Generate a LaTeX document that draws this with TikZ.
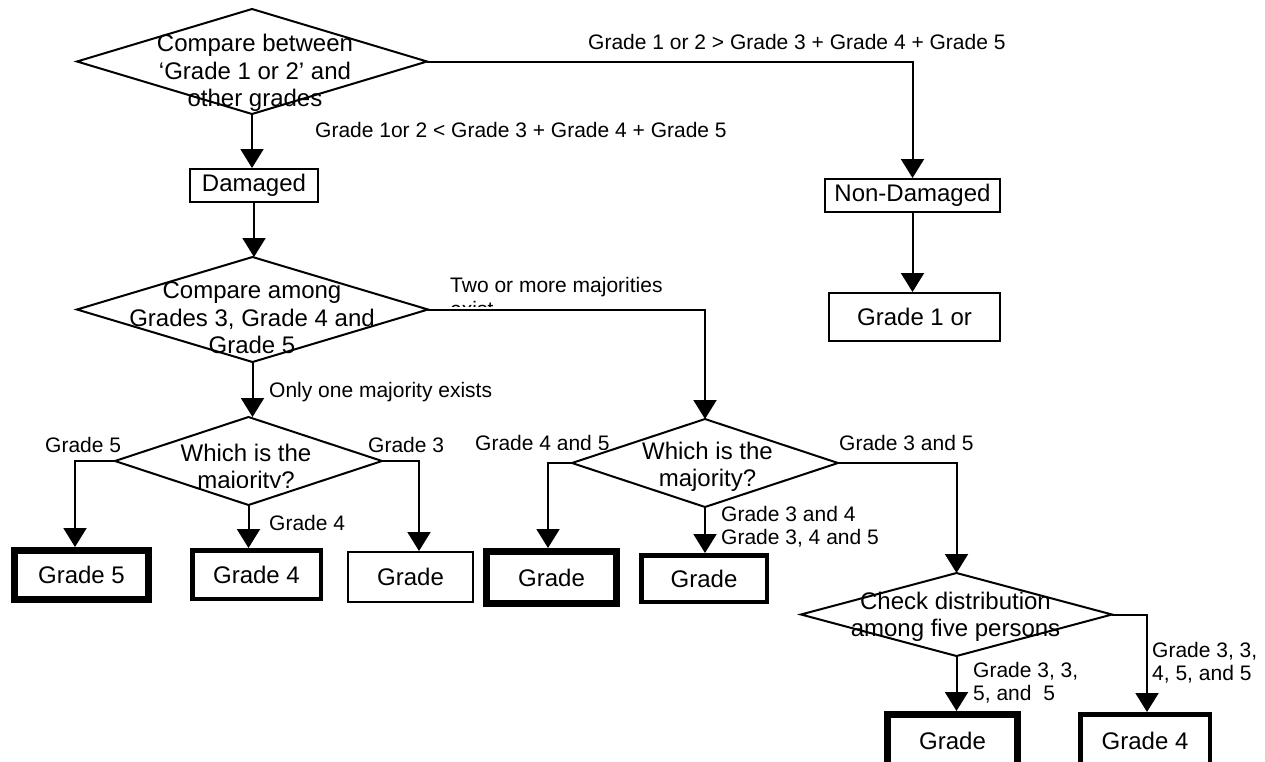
\documentclass[tikz,border=0pt]{standalone}
\usepackage{fontspec}
\setmainfont{Liberation Sans}
\usetikzlibrary{arrows.meta,shapes.geometric}
\begin{document}
\begin{tikzpicture}[x=1pt,y=-1pt,
  conn/.style={line width=2pt},
  arr/.style={conn,-{Triangle[length=19pt,width=23pt]}},
  dia/.style={diamond,draw,line width=2pt,inner sep=0pt,outer sep=0pt},
  bigtxt/.style={font=\fontsize{24}{27.5}\selectfont,align=center,inner sep=0pt,anchor=base},
  lbl/.style={font=\fontsize{21}{23.5}\selectfont,align=left,inner sep=0pt,anchor=base west},
  boxthin/.style={draw,line width=2.2pt,inner sep=0pt,font=\fontsize{24}{27.5}\selectfont},
  boxmid/.style={boxthin,line width=4.5pt},
  boxthick/.style={boxthin,line width=7pt}
]
\useasboundingbox (0,0) rectangle (1265,761);

% diamonds
\node[dia,minimum width=350pt,minimum height=105pt] (d1) at (252,61.5) {};
\node[dia,minimum width=351pt,minimum height=105pt] (d2) at (252.5,309.5) {};
\node[dia,minimum width=267pt,minimum height=88pt] (w1) at (248.5,461) {};
\node[dia,minimum width=266pt,minimum height=88pt] (w2) at (705,463) {};
\node[dia,minimum width=311pt,minimum height=83pt] (ck) at (956.5,614.5) {};

% diamond texts (anchor = baseline of last line)
\node[bigtxt] (d1t) at (255,106.6) {Compare between\\‘Grade 1 or 2’ and\\other grades};
\node[bigtxt] (d2t) at (252,353.6) {Compare among\\Grades 3, Grade 4 and\\Grade 5};
\begin{scope}
\clip (100,420) rectangle (400,487);
\node[bigtxt] (w1t) at (246,488.6) {Which is the\\majority?};
\end{scope}
\node[bigtxt] (w2t) at (707.5,486.6) {Which is the\\majority?};
\node[bigtxt] (ckt) at (955.5,636.6) {Check distribution\\among five persons};

% boxes
\node[boxthin,minimum width=127.8pt,minimum height=32.8pt] (dmg) at (254,185.5) {Damaged};
\node[boxthin,minimum width=174.8pt,minimum height=32.8pt] (nd) at (912.5,195.5) {Non-Damaged};
\node[boxthin,minimum width=170.8pt,minimum height=47.8pt] (g12) at (914.5,317) {Grade 1 or};
\node[boxthick,minimum width=134pt,minimum height=49pt] (g5) at (81.5,575) {Grade 5};
\node[boxmid,minimum width=128.5pt,minimum height=48.5pt] (g4) at (256.5,574.5) {Grade 4};
\node[boxthin,minimum width=124.8pt,minimum height=49.8pt] (g3) at (410.5,577) {Grade};
\node[boxthick,minimum width=130pt,minimum height=52pt] (g45) at (551.5,577.5) {Grade};
\node[boxmid,minimum width=125.5pt,minimum height=46.5pt] (g34) at (704,578.5) {Grade};
\node[boxthick,minimum width=130pt,minimum height=53pt] (gb1) at (952.5,741) {Grade};
\node[boxmid,minimum width=129.5pt,minimum height=53.5pt] (gb2) at (1145,741) {Grade 4};

% connectors
\draw[arr] (d1.east) -| (nd.north);
\draw[arr] (d1.south) -- (d1.south |- dmg.north);
\draw[arr] (nd.south) -- (nd.south |- g12.north);
\draw[arr] (dmg.south) -- (dmg.south |- d2.north);
\draw[arr] (d2.east) -| (w2.north);
\draw[arr] (d2.south) -- (d2.south |- w1.north);
\draw[arr] (w1.west) -| ([xshift=-6.5pt]g5.north);
\draw[arr] (w1.south) -- (w1.south |- g4.north);
\draw[arr] (w1.east) -| ([xshift=8.5pt]g3.north);
\draw[arr] (w2.west) -| ([xshift=-3.5pt]g45.north);
\draw[arr] (w2.south) -- (w2.south |- g34.north);
\draw[arr] (w2.east) -| (ck.north);
\draw[arr] (ck.south) -- (ck.south |- gb1.north);
\draw[arr] (ck.east) -| ([xshift=2pt]gb2.north);

% labels (anchor = baseline of last line)
\node[lbl] (l1) at (588,49.5) {Grade 1 or 2 > Grade 3 + Grade 4 + Grade 5};
\node[lbl] (l2) at (315,137.5) {Grade 1or 2 < Grade 3 + Grade 4 + Grade 5};
\begin{scope}
\clip (440,265) rectangle (700,306);
\node[lbl] (l3) at (450,316) {Two or more majorities\\exist};
\end{scope}
\node[lbl] (l4) at (269,397.5) {Only one majority exists};
\node[lbl] (l5) at (45,452.5) {Grade 5};
\node[lbl] (l6) at (368,452.5) {Grade 3};
\node[lbl] (l7) at (269,530.5) {Grade 4};
\begin{scope}
\clip (465,420) rectangle (620,449);
\node[lbl] (l8) at (475,450.5) {Grade 4 and 5};
\end{scope}
\node[lbl] (l9) at (839,450.5) {Grade 3 and 5};
\node[lbl] (l10) at (721,544.5) {Grade 3 and 4\\Grade 3, 4 and 5};
\node[lbl] (l11) at (973,700.5) {Grade 3, 3,\\5, and~~5};
\node[lbl] (l12) at (1152,680.5) {Grade 3, 3,\\4, 5, and 5};
\end{tikzpicture}
\end{document}
